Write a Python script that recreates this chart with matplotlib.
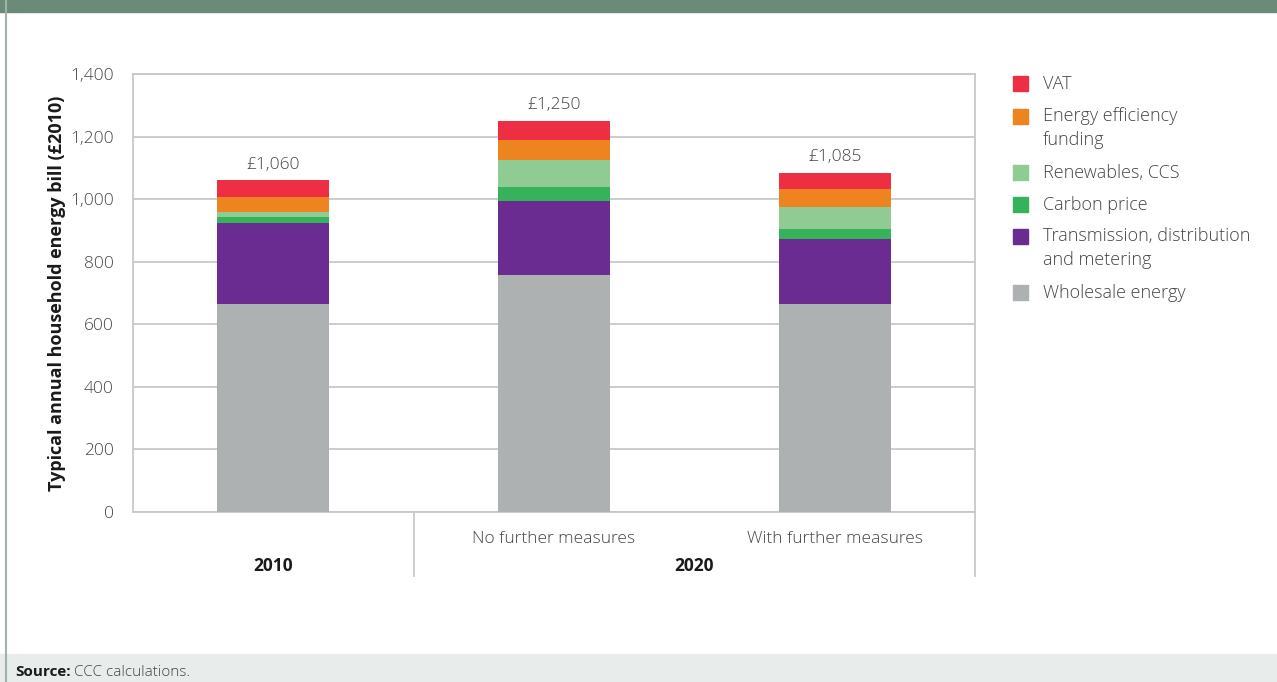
import matplotlib.pyplot as plt
from matplotlib.patches import Rectangle
from matplotlib.lines import Line2D
import numpy as np

plt.rcParams['font.family'] = ['Open Sans', 'DejaVu Sans']

# Bill components per scenario (£2010)
scenarios = ['', 'No further measures', 'With further measures']
components = ['Wholesale energy', 'Transmission, distribution\nand metering',
              'Carbon price', 'Renewables, CCS', 'Energy efficiency\nfunding', 'VAT']
wholesale = [665, 757, 665]
transmission = [259, 237, 207]
carbon = [19, 45, 32]
renewables = [16, 86, 71]
efficiency = [48, 64, 57]
vat = [53, 61, 53]
totals = [1060, 1250, 1085]
colors = ['#aeb1b2', '#6b2c91', '#35b25a', '#8fcb93', '#ee8420', '#ee2e43']

series = [wholesale, transmission, carbon, renewables, efficiency, vat]
text_col = '#454545'

fig = plt.figure(figsize=(12.77, 6.82), dpi=100)
ax = fig.add_axes([133 / 1277, 1 - 512 / 682, 842 / 1277, 438 / 682])

x = np.arange(len(scenarios))
bottom = np.zeros(len(scenarios))
for vals, col in zip(series, colors):
    ax.bar(x, vals, 0.4, bottom=bottom, color=col, zorder=3)
    bottom += np.array(vals)

for xi, t in zip(x, totals):
    ax.text(xi, t + 25, f'£{t:,}', ha='center', va='bottom', fontsize=12.5,
            color=text_col, fontweight='light')

ax.set_xlim(-0.5, 2.5)
ax.set_ylim(0, 1400)
ax.set_yticks(range(0, 1401, 200))
ax.set_yticklabels([f'{v:,}' for v in range(0, 1401, 200)], fontweight='light')
ax.set_xticks(x)
ax.set_xticklabels(scenarios, fontweight='light')
ax.tick_params(axis='both', length=0, labelsize=12.5, labelcolor=text_col)
ax.tick_params(axis='y', pad=14)
ax.tick_params(axis='x', pad=14)
ax.grid(axis='y', color='#c8c8c8', linewidth=1.3, zorder=0)
for sp in ax.spines.values():
    sp.set_color('#c8c8c8')
    sp.set_linewidth(1.3)

ax.set_ylabel('Typical annual household energy bill (£2010)', fontsize=13,
              fontweight='bold', color='#1a1a1a', labelpad=3)

# group separators and group labels under the axis
tr = ax.get_xaxis_transform()
for xs in [0.5, 2.5]:
    ax.add_line(Line2D([xs, xs], [0, -0.145], transform=tr, color='#c8c8c8',
                       linewidth=1.3, clip_on=False))
ax.text(0, -0.123, '2010', transform=tr, ha='center', va='center',
        fontsize=12.5, fontweight='bold', color='#1a1a1a')
ax.text(1.5, -0.123, '2020', transform=tr, ha='center', va='center',
        fontsize=12.5, fontweight='bold', color='#1a1a1a')

# legend, top to bottom (y of first text line in pixels)
leg_y = [83, 116, 172, 204, 236, 292]
line_gap = 23
order = list(range(len(components)))[::-1]
for i, ly in zip(order, leg_y):
    fig.add_artist(Rectangle((1013 / 1277, 1 - (ly + 8) / 682), 15 / 1277, 15 / 682,
                             transform=fig.transFigure, color=colors[i]))
    extra = components[i].count('\n') * line_gap
    fig.text(1043 / 1277, 1 - (ly + 6 + extra) / 682, components[i], ha='left',
             va='baseline', fontsize=13, color=text_col, linespacing=1.4,
             fontweight='light')

# page furniture
fig.add_artist(Rectangle((0, 1 - 12 / 682), 1, 12 / 682, transform=fig.transFigure,
                         color='#6b8a77'))
fig.add_artist(Rectangle((0, 0), 1, 28 / 682, transform=fig.transFigure,
                         color='#e8ecea'))
fig.add_artist(Line2D([6 / 1277, 6 / 1277], [0, 1], transform=fig.transFigure,
                      color='#9fb3a7', linewidth=1.5))
fig.text(15 / 1277, 10 / 682, 'Source:', fontsize=11, fontweight='bold',
         color='#1a1a1a', va='center')
fig.text(74 / 1277, 10 / 682, 'CCC calculations.', fontsize=11,
         color=text_col, va='center', fontweight='light')

fig.savefig('out.png', dpi=100)
